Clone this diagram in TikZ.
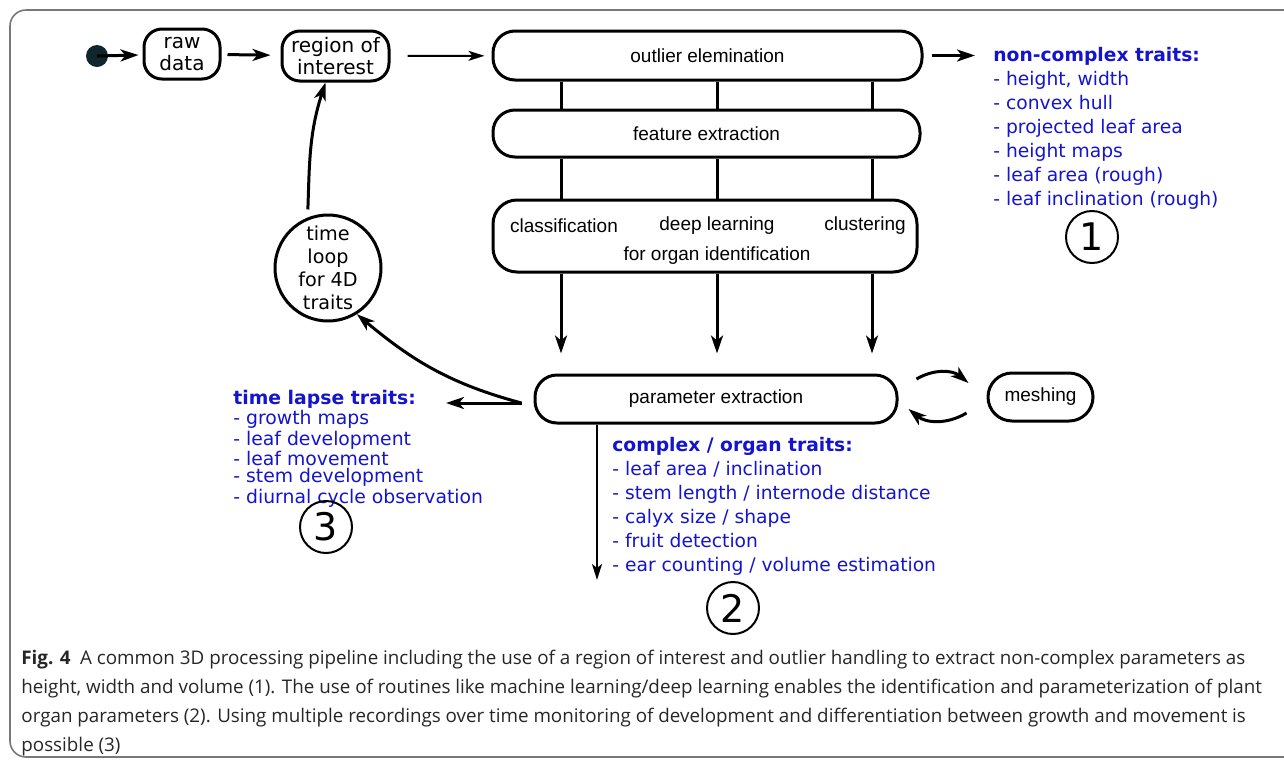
\documentclass[tikz,border=0pt]{standalone}
\usepackage{fontspec}
\setmainfont{Liberation Sans}
\newfontfamily\dejavu{DejaVu Sans}
\newfontfamily\capfont{Open Sans}
\usetikzlibrary{arrows.meta,positioning}
\definecolor{traitblue}{RGB}{20,20,205}
\definecolor{framegray}{RGB}{120,120,120}
\definecolor{startdot}{RGB}{14,38,44}

\begin{document}
\begin{tikzpicture}[x=0.5pt,y=0.5pt]
\tikzstyle{box} = [draw, line width=1.5pt, rounded corners=9pt, inner sep=0pt, font=\fontsize{9.5}{11}\selectfont]
\tikzstyle{state} = [box, font=\dejavu\fontsize{10}{11}\selectfont, align=center]
\tikzstyle{lbl} = [inner sep=0pt, font=\fontsize{9.5}{11}\selectfont]
\tikzstyle{traits} = [text=traitblue, inner sep=0pt, align=left, anchor=north west, font=\dejavu\fontsize{9.35}{12}\selectfont]
\tikzstyle{num} = [draw, circle, line width=1pt, minimum size=26pt, inner sep=0pt, font=\dejavu\fontsize{19}{19}\selectfont]
\tikzstyle{flow} = [line width=1.5pt, -{Stealth[length=9pt,width=6pt,inset=2.5pt]}]
\tikzstyle{thin} = [line width=1pt, -{Stealth[length=8pt,width=5pt,inset=2pt]}]

\useasboundingbox (0,0) rectangle (1284,-761);
\draw[framegray, line width=0.8pt, rounded corners=8pt] (10,-10) rectangle (1300,-757);

% pipeline
\node[circle, fill=startdot, minimum size=11pt, inner sep=0pt] (start) at (97,-56) {};
\node[state, minimum width=38pt, minimum height=25pt] (raw) at (182,-54) {raw\\data};
\node[state, minimum width=53.5pt, minimum height=25pt] (roi) at (335.5,-56) {region of\\interest};
\node[box, minimum width=214.5pt, minimum height=24.5pt, rounded corners=11pt] (outlier) at (707.5,-55.5) {outlier elemination};
\node[box, minimum width=213.5pt, minimum height=23.5pt, rounded corners=11pt] (feature) at (706.5,-133.5) {feature extraction};
\node[box, minimum width=212pt, minimum height=36pt, rounded corners=12pt] (organ) at (705,-236) {};
\node[lbl] (cls) at (564,-226) {classification};
\node[lbl] (deep) at (717,-226) {deep learning};
\node[lbl] (clu) at (865,-226) {clustering};
\node[lbl] (orgid) at (717,-256) {for organ identification};
\node[box, minimum width=181pt, minimum height=24pt, rounded corners=11pt] (param) at (716,-399) {parameter extraction};
\node[box, minimum width=52.5pt, minimum height=24pt, rounded corners=12pt] (mesh) at (1040.5,-397) {meshing};
\node[state, circle, minimum size=53pt, font=\dejavu\fontsize{9.6}{11.5}\selectfont] (time) at (328,-268) {time\\loop\\for 4D\\traits};

% traits
\node[traits] (nct) at (993,-47) {\textbf{non-complex traits:}\\- height, width\\- convex hull\\- projected leaf area\\- height maps\\- leaf area (rough)\\- leaf inclination (rough)};
\node[traits, font=\dejavu\fontsize{9.4}{8.85}\selectfont] (tl) at (233,-390) {\textbf{time lapse traits:}\\- growth maps\\- leaf development\\- leaf movement\\- stem development\\- diurnal cycle observation};
\node[traits] (cot) at (612,-437) {\textbf{complex / organ traits:}\\- leaf area / inclination\\- stem length / internode distance\\- calyx size / shape\\- fruit detection\\- ear counting / volume estimation};

\node[num] (one) at (1092,-237) {1};
\node[num] (two) at (733,-608) {2};
\node[num] (three) at (326,-527) {3};

% connectors
\draw[flow, shorten >=2pt] (start.center) -- (raw);
\draw[flow, shorten <=3pt, shorten >=5pt] (raw) -- (roi);
\draw[thin, shorten <=8.5pt, shorten >=3.5pt] (roi) -- (outlier);
\draw[flow, shorten <=4pt, shorten >=9pt] (outlier.east) -- (outlier.east -| nct.west);
\foreach \x in {561,717,872} {
  \draw[line width=1.5pt] (\x,0 |- outlier.south) -- (\x,0 |- feature.north);
  \draw[line width=1.5pt] (\x,0 |- feature.south) -- (\x,0 |- organ.north);
  \draw[flow, shorten >=10pt] (\x,0 |- organ.south) -- (\x,0 |- param.north);
}
\coordinate (tlin) at (446,-403);
\coordinate (cotout) at (597,-580);
\draw[flow] ([xshift=-6pt,yshift=-2pt]param.west) -- (tlin);
\draw[flow] ([xshift=-6pt,yshift=-2pt]param.west) to[out=165,in=-40] (time.-58);
\draw[flow, shorten <=4pt] (time.112) to[out=88,in=-108] ([xshift=-5pt]roi.south);
\draw[thin] (597,0 |- param.south) -- (cotout);
\draw[flow] ([shift={(9pt,10pt)}]param.east) to[bend left=35] ([shift={(-9pt,7pt)}]mesh.west);
\draw[flow] ([shift={(-10pt,-8pt)}]mesh.west) to[bend left=35] ([shift={(5pt,-5pt)}]param.east);

% caption
\node[anchor=north west, inner sep=0pt, align=left, text=black!85, font=\capfont\fontsize{9.4}{14.5}\selectfont] (cap) at (21,-650) {\textbf{Fig. 4}\enspace A common 3D processing pipeline including the use of a region of interest and outlier handling to extract non-complex parameters as\\height, width and volume (1). The use of routines like machine learning/deep learning enables the identification and parameterization of plant\\organ parameters (2). Using multiple recordings over time monitoring of development and differentiation between growth and movement is\\possible (3)};
\end{tikzpicture}
\end{document}
